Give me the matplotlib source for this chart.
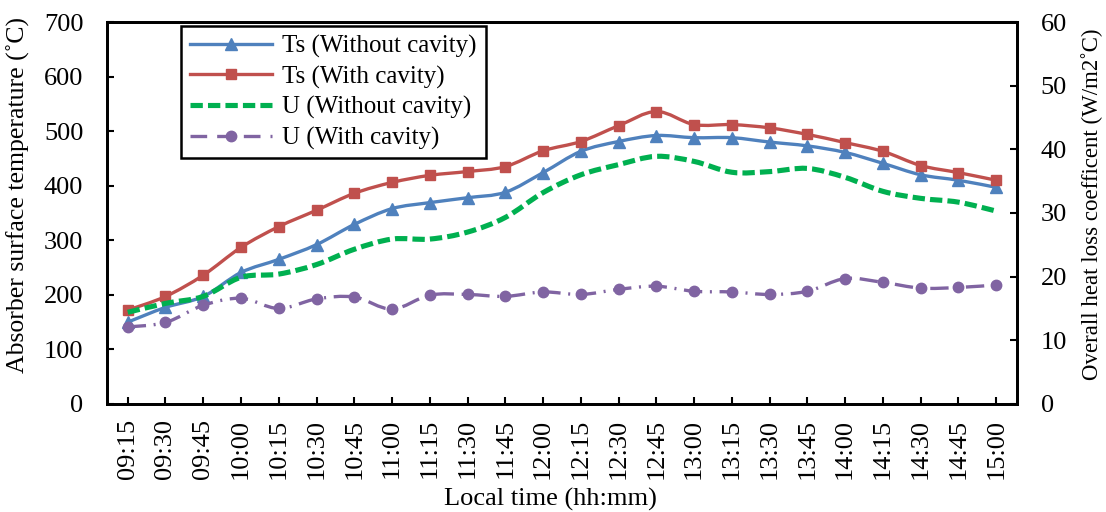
import numpy as np
import matplotlib
matplotlib.use("Agg")
import matplotlib.pyplot as plt
from matplotlib.path import Path
from matplotlib.patches import PathPatch
from matplotlib.lines import Line2D

plt.rcParams['font.family'] = ['Liberation Serif', 'DejaVu Serif']

times = ['09:15', '09:30', '09:45', '10:00', '10:15', '10:30', '10:45', '11:00',
         '11:15', '11:30', '11:45', '12:00', '12:15', '12:30', '12:45', '13:00',
         '13:15', '13:30', '13:45', '14:00', '14:15', '14:30', '14:45', '15:00']

# absorber surface temperature, deg C
ts_without = [150, 177, 197, 241, 265, 292, 329, 358, 369, 378, 388, 424,
              463, 481, 492, 488, 488, 480, 473, 461, 441, 420, 410, 397]
ts_with = [172, 197, 236, 287, 325, 355, 386, 406, 419, 426, 435, 464,
           481, 510, 536, 512, 512, 506, 494, 479, 463, 437, 424, 410]

# overall heat loss coefficient, W/m2C
u_without = [14.4, 15.8, 16.9, 19.9, 20.4, 21.9, 24.3, 25.9, 25.9, 27.0, 29.3, 33.2,
             36.0, 37.6, 38.9, 38.1, 36.4, 36.5, 37.0, 35.6, 33.4, 32.3, 31.7, 30.3]
u_with = [12.1, 12.8, 15.5, 16.6, 15.0, 16.5, 16.8, 14.9, 17.1, 17.2, 16.9, 17.6,
          17.2, 18.0, 18.5, 17.7, 17.6, 17.2, 17.7, 19.7, 19.1, 18.2, 18.3, 18.7]

c_blue = '#4F81BD'
c_red = '#C0504D'
c_green = '#00B050'
c_purple = '#8064A2'


def smooth_path(xs, ys):
    # cubic bezier through every point, excel-style smoothing
    n = len(xs)
    verts = [(xs[0], ys[0])]
    codes = [Path.MOVETO]
    for i in range(n - 1):
        a = max(i - 1, 0)
        b = min(i + 2, n - 1)
        c1 = (xs[i] + (xs[i + 1] - xs[a]) / 6, ys[i] + (ys[i + 1] - ys[a]) / 6)
        c2 = (xs[i + 1] - (xs[b] - xs[i]) / 6, ys[i + 1] - (ys[b] - ys[i]) / 6)
        verts += [c1, c2, (xs[i + 1], ys[i + 1])]
        codes += [Path.CURVE4] * 3
    return Path(verts, codes)


def draw_series(ax, ys, color, lw, ls, marker=None, ms=0):
    xs = np.arange(len(ys))
    ax.add_patch(PathPatch(smooth_path(xs, ys), fill=False, edgecolor=color,
                           lw=lw, linestyle=ls, capstyle='butt', zorder=3))
    if marker:
        ax.plot(xs, ys, linestyle='none', marker=marker, ms=ms, color=color, zorder=4)


fig = plt.figure(figsize=(11.06, 5.12), dpi=100)
ax1 = fig.add_axes([0.0967, 0.211, 0.8228, 0.746])
ax2 = ax1.twinx()

dash_u = (0, (2.4, 1.0))
dashdot_u = (0, (5.5, 2.3, 0.6, 2.3))

draw_series(ax1, ts_without, c_blue, 2.4, '-', '^', 9)
draw_series(ax1, ts_with, c_red, 2.4, '-', 's', 7.5)
draw_series(ax2, u_without, c_green, 3.7, dash_u)
draw_series(ax2, u_with, c_purple, 2.4, dashdot_u, 'o', 7.5)

n = len(times)
ax1.set_xlim(-0.55, n - 0.45)
ax1.set_ylim(0, 700)
ax2.set_ylim(0, 60)
ax1.set_xticks(range(n))
ax1.set_xticklabels(times, rotation=90)
ax1.set_yticks(range(0, 701, 100))
ax2.set_yticks(range(0, 61, 10))

for ax in (ax1, ax2):
    for s in ax.spines.values():
        s.set_linewidth(2)
    ax.tick_params(direction='in', length=5, width=1.5, labelsize=19)
    ax.tick_params(axis='y', pad=17)
ax1.tick_params(axis='x', pad=11)

ax1.set_ylabel('Absorber surface temperature (˚C)', fontsize=18.5)
ax2.set_ylabel('Overall heat loss coefficent (W/m2˚C)', fontsize=16.5)
ax1.set_xlabel('Local time (hh:mm)', fontsize=19)
ax1.yaxis.set_label_coords(-0.0845, 0.548)
ax2.yaxis.set_label_coords(1.070, 0.524)
ax1.xaxis.set_label_coords(0.487, -0.220)

handles = [
    Line2D([], [], color=c_blue, lw=2.4, marker='^', ms=9),
    Line2D([], [], color=c_red, lw=2.4, marker='s', ms=7.5),
    Line2D([], [], color=c_green, lw=3.7, linestyle=dash_u),
    Line2D([], [], color=c_purple, lw=2.4, linestyle=(0, (5, 3)), marker='o', ms=7.5),
]
labels = ['Ts (Without cavity)', 'Ts (With cavity)', 'U (Without cavity)', 'U (With cavity)']
leg = ax2.legend(handles, labels, loc='upper left', bbox_to_anchor=(0.1637, 0.949),
                 bbox_transform=fig.transFigure, fontsize=18, frameon=True,
                 fancybox=False, framealpha=1, edgecolor='black', handlelength=3.3,
                 handletextpad=0.4, borderpad=0.35, labelspacing=0.3, borderaxespad=0)
leg.get_frame().set_linewidth(1.8)

fig.savefig('out.png', dpi=100)
